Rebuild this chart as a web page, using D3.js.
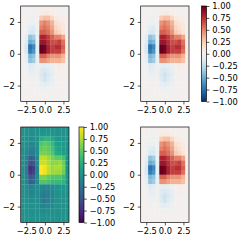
<!DOCTYPE html>
<html>
<head>
<meta charset="utf-8">
<script src="https://cdn.jsdelivr.net/npm/d3@7"></script>
<style>
body{margin:0;background:#fff;}
text{font-family:"DejaVu Sans",sans-serif;}
</style>
</head>
<body>
<div id="container"></div>
<script>
var width = 240;
var height = 240;

// image cell centres
var xCenters = [-3, -2.5, -2, -1.5, -1, -0.5, 0, 0.5, 1, 1.5, 2, 2.5, 3];
var yCenters = [2.85, 2.55, 2.25, 1.95, 1.65, 1.35, 1.05, 0.75, 0.45, 0.15,
	-0.15, -0.45, -0.75, -1.05, -1.35, -1.65, -1.95, -2.25, -2.55, -2.85];

// one row per yCenter, one value per xCenter
var zRows = [
	[0, 0, 0, 0, 0, 0.02, 0.03, 0.03, 0.02, 0, 0, 0, 0],
	[0, 0, -0.02, -0.02, 0, 0.06, 0.08, 0.08, 0.05, 0.02, 0.02, 0, 0],
	[0, 0, -0.03, -0.03, 0, 0.25, 0.3, 0.3, 0.2, 0.08, 0.06, 0.04, 0],
	[0, 0, -0.05, -0.05, 0, 0.45, 0.5, 0.45, 0.35, 0.15, 0.12, 0.08, 0],
	[0, -0.03, -0.1, -0.12, -0.02, 0.5, 0.55, 0.5, 0.4, 0.2, 0.15, 0.1, 0],
	[0, -0.04, -0.15, -0.15, -0.03, 0.6, 0.6, 0.55, 0.45, 0.25, 0.2, 0.12, 0.02],
	[0, -0.1, -0.4, -0.35, -0.05, 0.8, 0.8, 0.7, 0.6, 0.5, 0.5, 0.4, 0.03],
	[0, -0.12, -0.5, -0.45, -0.06, 0.85, 0.85, 0.75, 0.65, 0.65, 0.7, 0.55, 0.04],
	[0, -0.15, -0.75, -0.65, -0.08, 1.0, 0.95, 0.8, 0.7, 0.75, 0.75, 0.6, 0.05],
	[0, -0.15, -0.7, -0.6, -0.08, 1.0, 0.95, 0.8, 0.7, 0.7, 0.7, 0.55, 0.05],
	[0, -0.1, -0.45, -0.4, -0.06, 0.6, 0.6, 0.5, 0.45, 0.45, 0.45, 0.35, 0.03],
	[0, -0.08, -0.4, -0.35, -0.05, 0.45, 0.45, 0.4, 0.35, 0.35, 0.35, 0.3, 0.02],
	[0, -0.03, -0.12, -0.1, -0.03, -0.08, -0.1, -0.08, -0.05, 0.03, 0.06, 0.04, 0],
	[0, -0.02, -0.1, -0.08, -0.03, -0.12, -0.15, -0.12, -0.08, 0, 0.05, 0.03, 0],
	[0, 0, -0.05, -0.05, -0.03, -0.15, -0.2, -0.15, -0.1, 0, 0.02, 0, 0],
	[0, 0, -0.03, -0.03, -0.02, -0.12, -0.18, -0.12, -0.08, 0, 0, 0, 0],
	[0, 0, 0, 0, 0, -0.08, -0.1, -0.08, -0.05, 0, 0, 0, 0],
	[0, 0, 0, 0, 0, -0.03, -0.04, -0.03, -0.02, 0, 0, 0, 0],
	[0, 0, 0, 0, 0, 0, 0, 0, 0, 0, 0, 0, 0],
	[0, 0, 0, 0, 0, 0, 0, 0, 0, 0, 0, 0, 0]
];

var xTicks = [-2.5, 0, 2.5];
var yTicks = [-2, 0, 2];
var cbarTicks = [-1, -0.75, -0.5, -0.25, 0, 0.25, 0.5, 0.75, 1];

var cmaps = {
	RdBu: function(v){ return d3.interpolateRdBu((1 - v) / 2); }, // reversed: high = red
	viridis: function(v){ return d3.interpolateViridis((v + 1) / 2); }
};

// panel layout
var axW = 48.3, axH = 95.5, cbW = 5;
var fontSize = 8.3, tickLen = 2.9, tickPad = 2.9, lw = 0.67;
var panels = [
	{x0: 20.7, y0: 6, cmap: "RdBu", cbar: null},
	{x0: 140.7, y0: 6, cmap: "RdBu", cbar: 201.5},
	{x0: 20.7, y0: 127, cmap: "viridis", cbar: 79},
	{x0: 140.7, y0: 127, cmap: "RdBu", cbar: null}
];

var cells = [];
for(var r=0;r<yCenters.length;r++){
	for(var c=0;c<xCenters.length;c++){
		cells.push({x: xCenters[c], y: yCenters[r], v: zRows[r][c]});
	}
}

var svg = d3.select("div#container")
	.append("svg")
	.attr("width", width)
	.attr("height", height)
	.style("display", "block");

var defs = svg.append("defs");

// soften cell edges a little, like a resampled image
defs.append("filter")
	.attr("id", "soft")
	.attr("x", "-5%").attr("y", "-5%").attr("width", "110%").attr("height", "110%")
	.append("feGaussianBlur")
	.attr("stdDeviation", 0.4);

function styleAxis(g){
	g.select(".domain").remove();
	g.selectAll(".tick line").attr("stroke", "#000").attr("stroke-width", lw);
	g.selectAll(".tick text").attr("fill", "#000").attr("font-size", fontSize);
}

panels.forEach(function(p, i){
	var xs = d3.scaleLinear().domain([-3.25, 3.25]).range([p.x0, p.x0 + axW]);
	var ys = d3.scaleLinear().domain([-3, 3]).range([p.y0 + axH, p.y0]);
	var color = cmaps[p.cmap];

	var G = svg.append("g").attr("class", "panel" + i);

	defs.append("clipPath")
		.attr("id", "clip" + i)
		.append("rect")
		.attr("x", p.x0).attr("y", p.y0)
		.attr("width", axW).attr("height", axH);

	G.append("g")
		.attr("clip-path", "url(#clip" + i + ")")
		.append("g")
		.attr("filter", "url(#soft)")
		.selectAll("rect.cell")
		.data(cells)
		.enter()
		.append("rect")
		.attr("class", "cell")
		.attr("x", function(d){ return xs(d.x - 0.25); })
		.attr("y", function(d){ return ys(d.y + 0.15); })
		.attr("width", xs(0.25) - xs(-0.25) + 0.2)
		.attr("height", ys(-0.15) - ys(0.15) + 0.2)
		.attr("fill", function(d){ return color(d.v); });

	G.append("g")
		.attr("transform", "translate(0," + (p.y0 + axH) + ")")
		.call(d3.axisBottom(xs).tickValues(xTicks).tickFormat(d3.format(".1f"))
			.tickSize(tickLen).tickPadding(tickPad))
		.call(styleAxis);

	G.append("g")
		.attr("transform", "translate(" + p.x0 + ",0)")
		.call(d3.axisLeft(ys).tickValues(yTicks).tickFormat(d3.format("d"))
			.tickSize(tickLen).tickPadding(tickPad))
		.call(styleAxis);

	G.append("rect")
		.attr("x", p.x0).attr("y", p.y0)
		.attr("width", axW).attr("height", axH)
		.attr("fill", "none").attr("stroke", "#000").attr("stroke-width", lw);

	if(p.cbar !== null){
		var gid = "grad" + i;
		var grad = defs.append("linearGradient")
			.attr("id", gid)
			.attr("x1", 0).attr("y1", 1).attr("x2", 0).attr("y2", 0);
		grad.selectAll("stop")
			.data(d3.range(0, 1.0001, 0.05))
			.enter()
			.append("stop")
			.attr("offset", function(t){ return t; })
			.attr("stop-color", function(t){ return color(t * 2 - 1); });

		var cs = d3.scaleLinear().domain([-1, 1]).range([p.y0 + axH, p.y0]);
		G.append("rect")
			.attr("x", p.cbar).attr("y", p.y0)
			.attr("width", cbW).attr("height", axH)
			.attr("fill", "url(#" + gid + ")")
			.attr("stroke", "#000").attr("stroke-width", lw);

		G.append("g")
			.attr("transform", "translate(" + (p.cbar + cbW) + ",0)")
			.call(d3.axisRight(cs).tickValues(cbarTicks).tickFormat(d3.format(".2f"))
				.tickSize(tickLen).tickPadding(tickPad))
			.call(styleAxis);
	}
});
</script>
</body>
</html>
